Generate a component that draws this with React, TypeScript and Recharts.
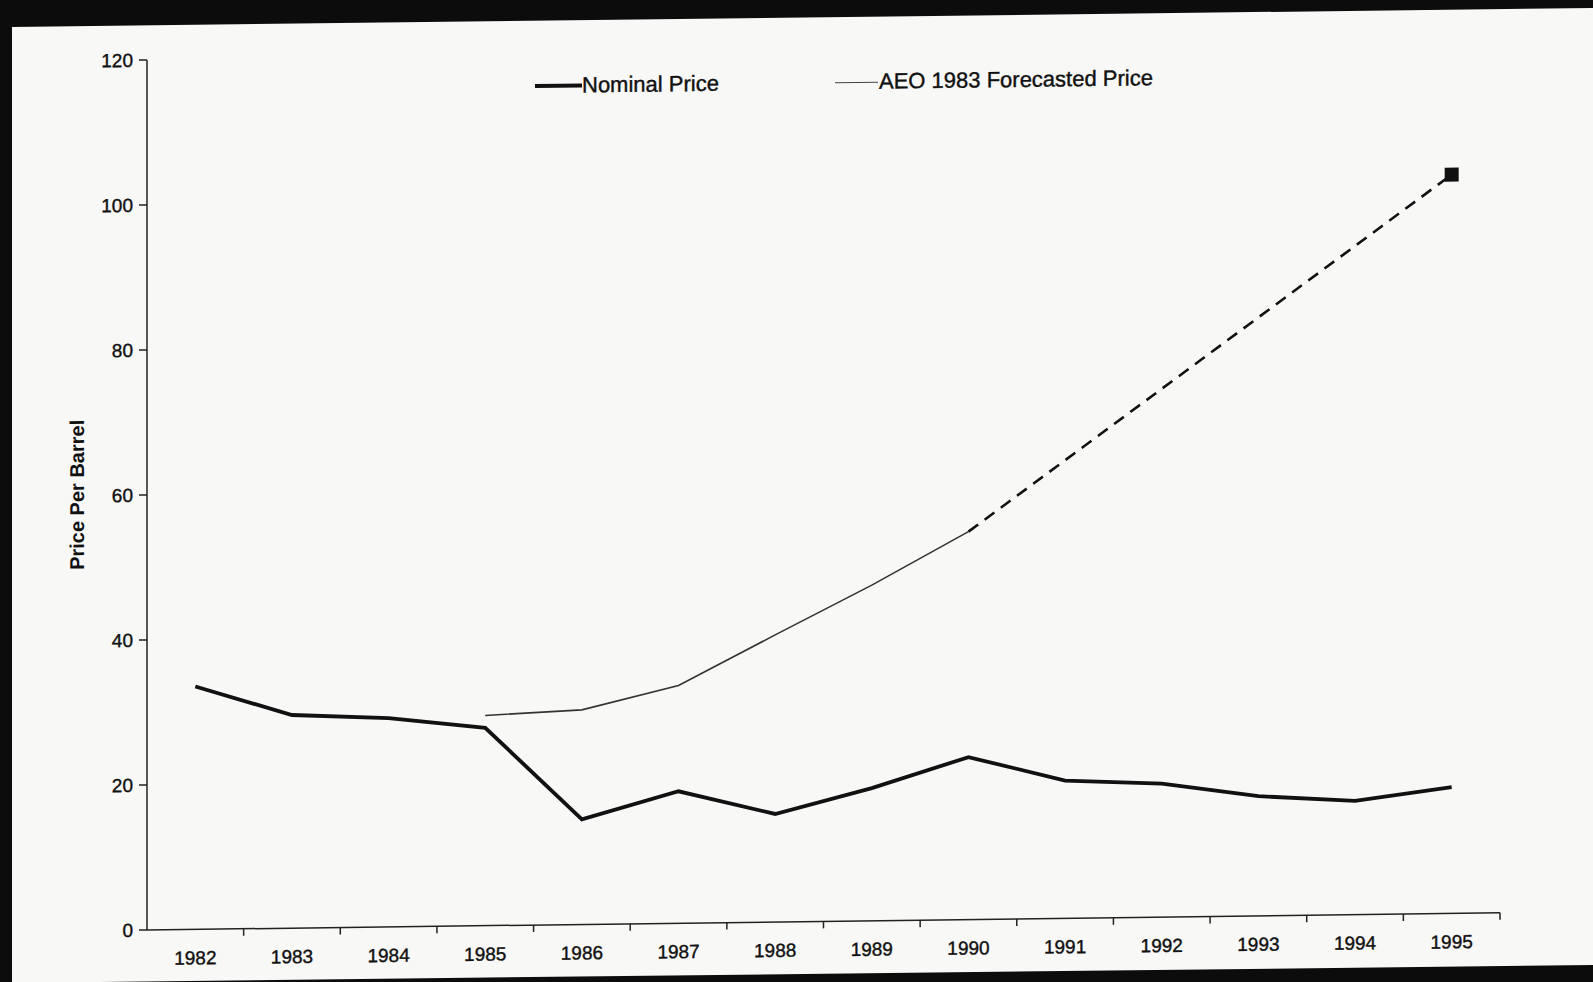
import React from 'react';
import { LineChart, Line, XAxis, YAxis, Legend } from 'recharts';

const years = ['1982', '1983', '1984', '1985', '1986', '1987', '1988', '1989', '1990', '1991', '1992', '1993', '1994', '1995'];
const nominalPrice = [33.5, 29.4, 28.8, 27.3, 14.5, 18.2, 14.9, 18.3, 22.4, 19.0, 18.4, 16.5, 15.7, 17.4];
const forecastPrice = [null, null, null, 29.0, 29.6, 32.8, 39.6, 46.3, 53.5, null, null, null, null, null];
const forecastExtension = [null, null, null, null, null, null, null, null, 53.5, null, null, null, null, 101.9];
const yTicks = [0, 20, 40, 60, 80, 100, 120];

const data = years.map((year, i) => ({
  year,
  nominal: nominalPrice[i],
  forecast: forecastPrice[i],
  extension: forecastExtension[i],
}));

const W = 1593;
const H = 982;
const PLOT_LEFT = 147;
const PLOT_RIGHT = 1500;
const PLOT_BOTTOM = 930;
const HALF_BAND = (PLOT_RIGHT - PLOT_LEFT) / years.length / 2;
const FONT = '"Liberation Sans", Arial, sans-serif';

// category label at the band centre, tick mark on the band's right edge
const YearTick = (props: any) => {
  const { x, payload } = props;
  return (
    <g>
      <line x1={x + HALF_BAND} x2={x + HALF_BAND} y1={PLOT_BOTTOM} y2={PLOT_BOTTOM + 7} stroke="#222" strokeWidth={1.5} />
      <text
        x={x}
        y={PLOT_BOTTOM + 35}
        textAnchor="middle"
        fontSize={19}
        fontFamily={FONT}
        fill="#111"
        stroke="#111"
        strokeWidth={0.4}
      >
        {payload.value}
      </text>
    </g>
  );
};

const EndMarker = (props: any) => {
  const { cx, cy, index, value } = props;
  if (index !== years.length - 1 || value == null) return <g key={`d${index}`} />;
  return <rect key={`d${index}`} x={cx - 7} y={cy - 7} width={14} height={14} fill="#111" />;
};

const AxisTitle = () => (
  <text
    x={77}
    y={494}
    transform="rotate(-90 77 494)"
    textAnchor="middle"
    dominantBaseline="central"
    fontSize={20}
    fontWeight="bold"
    fontFamily={FONT}
    fill="#111"
  >
    Price Per Barrel
  </text>
);

// zero-height box so the legend doesn't push the plot down
const LegendBox = () => (
  <div
    style={{
      position: 'relative',
      width: W,
      height: 0,
      overflow: 'visible',
      fontFamily: FONT,
      fontSize: 22,
      color: '#111',
      WebkitTextStroke: '0.4px #111',
    }}
  >
    <div style={{ position: 'absolute', left: 535, top: 89, width: 47, height: 4, background: '#111' }} />
    <div style={{ position: 'absolute', left: 582, top: 78, lineHeight: '26px', whiteSpace: 'nowrap' }}>Nominal Price</div>
    <div style={{ position: 'absolute', left: 835, top: 90.5, width: 43, height: 1.5, background: '#444' }} />
    <div style={{ position: 'absolute', left: 879, top: 78, lineHeight: '26px', whiteSpace: 'nowrap' }}>AEO 1983 Forecasted Price</div>
  </div>
);

export default function App() {
  return (
    <div style={{ position: 'absolute', left: 0, top: 0, width: W, height: H, background: '#0c0c0c', overflow: 'hidden' }}>
      <div
        style={{
          position: 'absolute',
          inset: 0,
          background: '#f8f8f7',
          clipPath: 'polygon(12px 27px, 1593px 8px, 1593px 965px, 12px 983px)',
        }}
      />
      <div style={{ position: 'absolute', left: 0, top: 0, transform: 'skewY(-0.73deg)', transformOrigin: '147px 930px' }}>
        <LineChart width={W} height={H} data={data} margin={{ top: 60, right: W - PLOT_RIGHT, bottom: 22, left: 0 }}>
          <XAxis
            dataKey="year"
            height={30}
            padding={{ left: HALF_BAND, right: HALF_BAND }}
            tick={<YearTick />}
            tickLine={false}
            axisLine={{ stroke: '#222', strokeWidth: 1.5 }}
            interval={0}
          />
          <YAxis
            width={PLOT_LEFT}
            domain={[0, 120]}
            ticks={yTicks}
            tickSize={8}
            tickMargin={6}
            tick={{ fontSize: 19, fill: '#111', fontFamily: FONT, stroke: '#111', strokeWidth: 0.4 }}
            tickLine={{ stroke: '#222', strokeWidth: 1.5 }}
            axisLine={{ stroke: '#222', strokeWidth: 1.5 }}
            label={<AxisTitle />}
          />
          <Legend
            verticalAlign="middle"
            height={0}
            wrapperStyle={{ position: 'absolute', top: 0, left: 0, width: W, height: 0 }}
            content={<LegendBox />}
          />
          <Line dataKey="nominal" stroke="#111" strokeWidth={3.8} dot={false} isAnimationActive={false} />
          <Line dataKey="forecast" stroke="#333" strokeWidth={1.6} dot={false} isAnimationActive={false} />
          <Line
            dataKey="extension"
            stroke="#111"
            strokeWidth={2.6}
            strokeDasharray="12 8"
            connectNulls
            dot={<EndMarker />}
            isAnimationActive={false}
          />
        </LineChart>
      </div>
    </div>
  );
}
